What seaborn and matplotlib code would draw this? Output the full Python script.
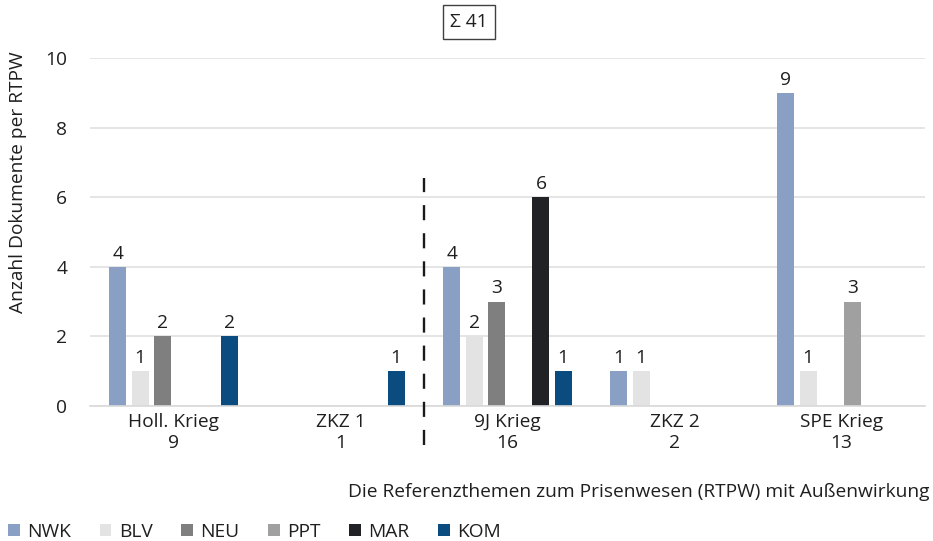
import matplotlib
matplotlib.use("Agg")
import matplotlib.pyplot as plt
import seaborn as sns
import pandas as pd

# ---- data ----
categories = ["Holl. Krieg", "ZKZ 1", "9J Krieg", "ZKZ 2", "SPE Krieg"]
totals = [9, 1, 16, 2, 13]
series = ["NWK", "BLV", "NEU", "PPT", "MAR", "KOM"]
nwk = [4, 0, 4, 1, 9]
blv = [1, 0, 2, 1, 1]
neu = [2, 0, 3, 0, 0]
ppt = [0, 0, 0, 0, 3]
mar = [0, 0, 6, 0, 0]
kom = [2, 1, 1, 0, 0]
colors = ["#8a9fc4", "#e3e3e3", "#7f7f7f", "#a0a0a0", "#212225", "#0b4c80"]
y_ticks = [0, 2, 4, 6, 8, 10]
total_label = "Σ 41"
y_title = "Anzahl Dokumente per RTPW"
x_title = "Die Referenzthemen zum Prisenwesen (RTPW) mit Außenwirkung"

values = [nwk, blv, neu, ppt, mar, kom]
tick_labels = [f"{c}\n{t}" for c, t in zip(categories, totals)]
rows = []
for s, vals in zip(series, values):
    for c, v in zip(categories, vals):
        rows.append({"cat": c, "series": s, "val": v})
df = pd.DataFrame(rows)

sns.set_theme(style="white")
plt.rcParams["font.family"] = ["Open Sans", "DejaVu Sans"]
txt = "#1f1f1f"
fs = 13.75

fig = plt.figure(figsize=(9.33, 5.41), dpi=100)
ax = fig.add_axes([90 / 933, 1 - 406 / 541, 835 / 933, 348 / 541])

sns.barplot(data=df, x="cat", y="val", hue="series", order=categories,
            hue_order=series, palette=colors, width=0.8, gap=0.24,
            saturation=1, linewidth=0, ax=ax, legend=True)

for cont in ax.containers:
    labs = [str(int(v)) if v > 0 else "" for v in cont.datavalues]
    ax.bar_label(cont, labels=labs, padding=3, fontsize=fs, color=txt)

ax.set_ylim(0, 10)
ax.set_xlim(-0.5, 4.5)
ax.set_yticks(y_ticks)
ax.set_xticks(range(len(categories)))
ax.set_xticklabels(tick_labels, fontsize=fs, color=txt, linespacing=1.2)
ax.tick_params(axis="y", labelsize=fs, labelcolor=txt, length=0, pad=16.5)
ax.tick_params(axis="x", length=0, pad=5)
ax.set_xlabel("")
ax.set_ylabel("")
ax.yaxis.grid(True, color="#e0e0e0", lw=1.2)
ax.set_axisbelow(True)
for sp in ["left", "right", "top"]:
    ax.spines[sp].set_visible(False)
ax.spines["bottom"].set_color("#d9d9d9")
ax.spines["bottom"].set_linewidth(1.2)

# separator
lw = 1.7
ax.plot([1.5, 1.5], [-1.12, 6.55], color="#1a1a1a", lw=lw,
        ls=(0, (6.4, 5.5)), clip_on=False, zorder=5)

handles, labels = ax.get_legend_handles_labels()
ax.get_legend().remove()
fig.legend(handles, labels, loc="center left",
           bbox_to_anchor=(8 / 933, 1 - 532 / 541), ncol=6, frameon=False,
           fontsize=fs, handlelength=0.62, handleheight=0.62,
           handletextpad=0.38, columnspacing=1.5, borderpad=0,
           borderaxespad=0, labelcolor=txt)

fig.text(929 / 933, 1 - 492 / 541, x_title, ha="right", va="center",
         fontsize=fs, color=txt)
fig.text(18 / 933, 1 - 182 / 541, y_title, ha="center", va="center",
         rotation=90, fontsize=fs, color=txt)
fig.text(469 / 933, 1 - 22 / 541, total_label, ha="center", va="center",
         fontsize=fs, color=txt,
         bbox=dict(boxstyle="square,pad=0.4", fc="white", ec="#404040", lw=1))

fig.savefig("out.png", dpi=100)
